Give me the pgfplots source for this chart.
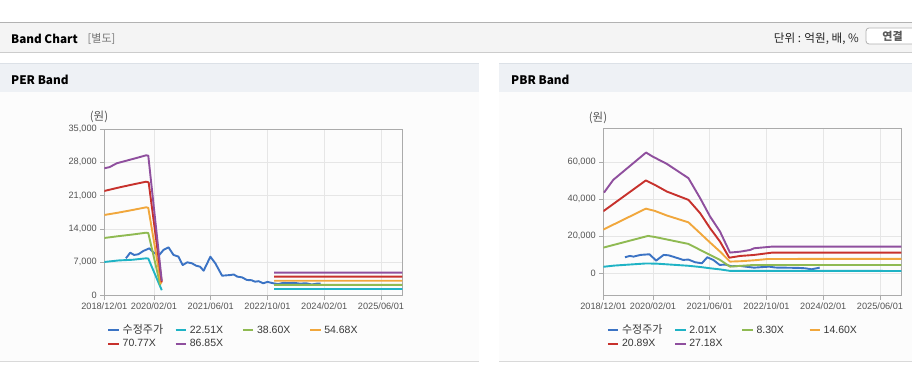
\documentclass[border=0pt]{standalone}
\usepackage{pgfplots}
\pgfplotsset{compat=1.18}
\usepackage{fontspec}
\setmainfont{Liberation Sans}
\newfontfamily\kr{Noto Sans CJK KR}
\definecolor{cBlue}{HTML}{3B73C4}
\definecolor{cCyan}{HTML}{1FB3C5}
\definecolor{cGreen}{HTML}{8FBA52}
\definecolor{cOrange}{HTML}{F1A73C}
\definecolor{cRed}{HTML}{C7312C}
\definecolor{cPurple}{HTML}{8F4F9E}
\definecolor{hdr}{HTML}{F4F4F4}
\definecolor{phdr}{HTML}{EEF1F5}
\definecolor{pline}{HTML}{DCE1E7}
\definecolor{pbody}{HTML}{FCFCFC}
\definecolor{axgray}{HTML}{ABABAB}
\definecolor{grgray}{HTML}{E6E6E6}
\definecolor{tkgray}{HTML}{555555}
\pgfplotsset{
  bandaxis/.style={
    anchor=south west, scale only axis, width=298pt, height=166.7pt,
    xmin=0, xmax=84,
    xtick={0,14,30,46,62,78},
    xticklabels={2018/12/01,2020/02/01,2021/06/01,2022/10/01,2024/02/01,2025/06/01},
    xtick pos=bottom, ytick pos=left, tick align=outside, major tick length=4pt,
    axis line style={draw=axgray, line width=0.9pt},
    tick style={draw=axgray, line width=0.9pt},
    grid=major, major grid style={draw=grgray, line width=0.9pt},
    scaled y ticks=false,
    /pgf/number format/assume math mode=true,
    /pgf/number format/.cd, fixed, 1000 sep={,}, /pgfplots/.cd,
    tick label style={font=\fontsize{9.2}{10}\selectfont, text=tkgray},
    unbounded coords=jump,
    every axis plot/.append style={line width=1.9pt, line join=round},
    legend columns=4,
    legend cell align=left,
    legend image code/.code={\draw[line width=2pt] (0pt,0pt) -- (10.5pt,0pt);},
    legend style={draw=none, fill=none, inner sep=0pt,
      font=\fontsize{10.5}{12}\selectfont, text=black!78,
      row sep=0.6pt,
      nodes={inner xsep=0pt, inner ysep=1pt, text height=8.5pt, text depth=2.5pt},
      /tikz/every odd column/.append style={column sep=2.7pt},
      /tikz/every even column/.append style={column sep=0pt}},
  }
}
\newcommand\LB[1]{\makebox[52pt][l]{#1}}
\begin{document}
\begin{tikzpicture}[x=1pt,y=1pt]
\useasboundingbox (0,0) rectangle (912,364);
\fill[white] (0,0) rectangle (912,364);
% top header bar
\fill[hdr] (0,312) rectangle (912,341.5);
\draw[black!30, line width=0.8pt] (0,341.6) -- (912,341.6);
\fill[black!20] (0,310.8) rectangle (912,312.2);
\node[anchor=west, inner sep=0pt, font=\kr\bfseries\fontsize{11.7}{13}\selectfont] at (11,325) {Band Chart};
\node[anchor=west, inner sep=0pt, font=\kr\fontsize{11}{12}\selectfont, text=black!55] at (87.5,325) {[별도]};
\node[anchor=east, inner sep=0pt, font=\kr\fontsize{11.6}{13}\selectfont, text=black!85] at (859,325) {단위 : 억원, 배, \%};
\draw[rounded corners=3pt, fill=white, draw=black!30, line width=0.8pt] (866,320) rectangle (918,336);
\node[font=\kr\bfseries\fontsize{11}{12}\selectfont, text=black!65] at (892.5,328) {연결};
% panels
\fill[pbody] (0,3) rectangle (479,271.5);
\fill[pbody] (499,3) rectangle (912,271.5);
\fill[phdr] (0,271.5) rectangle (479,300);
\fill[phdr] (499,271.5) rectangle (912,300);
\draw[pline, line width=1pt] (0,300) -- (479,300);
\draw[pline, line width=1pt] (499,300) -- (912,300);
\draw[black!15, line width=1.2pt] (0,2.6) -- (479,2.6);
\draw[black!15, line width=1.2pt] (499,2.6) -- (912,2.6);
\node[anchor=west, inner sep=0pt, font=\kr\bfseries\fontsize{11.8}{13}\selectfont] at (11,284) {PER Band};
\node[anchor=west, inner sep=0pt, font=\kr\bfseries\fontsize{11.8}{13}\selectfont] at (511,284) {PBR Band};
\node[font=\kr\fontsize{11.5}{12}\selectfont, text=tkgray] at (99,247) {(원)};
\node[font=\kr\fontsize{11.5}{12}\selectfont, text=tkgray] at (598,246) {(원)};

% ---------------- PER ----------------
\begin{axis}[bandaxis, at={(104.3pt,68.3pt)},
  ymin=0, ymax=35000, ytick={0,7000,14000,21000,28000,35000},
  legend style={at={(axis description cs:0.010,-0.1668)}, anchor=north west}]
\addplot[cBlue] coordinates {
(6.1,7850) (7.3,9030) (8.4,8560) (9.6,8700) (11.0,9390) (12.7,9950) (14,9000)
(15.5,8560) (16.7,9620) (18.1,10160) (19.5,8560) (20.9,8210) (22.1,6440)
(23.4,7010) (24.7,6800) (25.9,6300) (27.0,6090) (28.0,5250) (29.9,8190)
(31.3,6800) (33.2,4200) (35.5,4340) (36.5,4450) (37.5,4000) (38.8,3860)
(40.2,3300) (41.5,3250) (42.5,2940) (43.5,3050) (44.8,2600) (46,2900)
(47.7,2600) (49,2450) (50.5,2700) (52,2650) (53.5,2700) (55,2550) (57,2600)
(58.5,2350) (60,2550) (61,2550)};
\addlegendentry{\LB{\kr\fontsize{11}{12}\selectfont 수정주가}}
\addplot[cCyan] coordinates {
(0,7080) (4,7400) (8,7550) (11.8,7850) (12.4,7800) (16.2,1150)
(30,nan) (47.9,1410) (84,1410)};
\addlegendentry{\LB{22.51X}}
\addplot[cGreen] coordinates {
(0,12120) (4,12500) (8,12850) (11.8,13230) (12.4,13150) (15.8,2200)
(30,nan) (47.9,2270) (84,2270)};
\addlegendentry{\LB{38.60X}}
\addplot[cOrange] coordinates {
(0,16950) (4,17450) (8,18000) (11.8,18560) (12.4,18450) (16.0,2500)
(30,nan) (47.9,3140) (84,3140)};
\addlegendentry{\LB{54.68X}}
\addplot[cRed] coordinates {
(0,21990) (4,22700) (8,23350) (11.8,23940) (12.5,23800) (16.2,2800)
(30,nan) (47.9,3990) (84,3990)};
\addlegendentry{\LB{70.77X}}
\addplot[cPurple] coordinates {
(0,26750) (1.5,27000) (3.5,27800) (6,28300) (9,28900) (11.8,29480) (12.4,29400) (16.2,3100)
(30,nan) (47.9,4830) (84,4830)};
\addlegendentry{\LB{86.85X}}
\end{axis}

% ---------------- PBR ----------------
\begin{axis}[bandaxis, at={(603.3pt,68.5pt)},
  ymin=-12000, ymax=78000, ytick={0,20000,40000,60000},
  legend style={at={(axis description cs:0.0114,-0.1668)}, anchor=north west}]
\addplot[cBlue] coordinates {
(6.1,8650) (7.5,9370) (8.5,9000) (10.5,9910) (13,10270) (14.9,6850) (17,9910)
(18.4,9700) (20.2,8650) (22.5,7210) (24,7400) (25.9,5950) (27.8,5400) (29.3,8650)
(31,7210) (32.8,4500) (34.3,4700) (36.2,3800) (38.6,3950) (40.5,3500) (42.5,3030)
(44.5,3300) (46.8,3570) (48.5,3100) (52,3000) (55,2900) (56.9,2700) (58.7,2160) (61,3030)};
\addlegendentry{\LB{\kr\fontsize{11}{12}\selectfont 수정주가}}
\addplot[cCyan] coordinates {
(0,3500) (3,4140) (12,5300) (15,5200) (24,4050) (27.3,3400) (30.1,2700)
(32.9,2100) (35.7,1300) (84,1250)};
\addlegendentry{\LB{2.01X}}
\addplot[cGreen] coordinates {
(0,13850) (12.6,20170) (14.5,19600) (24,15850) (27.3,12610) (30.1,9910)
(32.9,7210) (35.7,3600) (38.6,4000) (42.5,4490) (84,4490)};
\addlegendentry{\LB{8.30X}}
\addplot[cOrange] coordinates {
(0,23600) (12,34900) (14.5,33690) (17.9,31200) (24,27500) (27.3,21620) (30.1,16580)
(32.9,11710) (35.7,6300) (38.6,6500) (42.5,7000) (46.5,7730) (84,7750)};
\addlegendentry{\LB{14.60X}}
\addplot[cRed] coordinates {
(0,33500) (12,50150) (14.5,47750) (17.9,44140) (24,39640) (27.3,32430) (30.1,24320)
(32.9,17120) (35.5,8400) (38.6,9350) (42.5,9900) (47.5,11130) (84,11130)};
\addlegendentry{\LB{20.89X}}
\addplot[cPurple] coordinates {
(0.2,43560) (2.8,50430) (12.05,65190) (13.9,63020) (17.9,59080) (24,51350)
(27.3,40540) (30.1,30630) (32.9,22520) (35.7,11170) (38.6,11680) (41.4,12590)
(42.5,13510) (47.5,14380) (84,14380)};
\addlegendentry{\LB{27.18X}}
\end{axis}
\end{tikzpicture}
\end{document}
